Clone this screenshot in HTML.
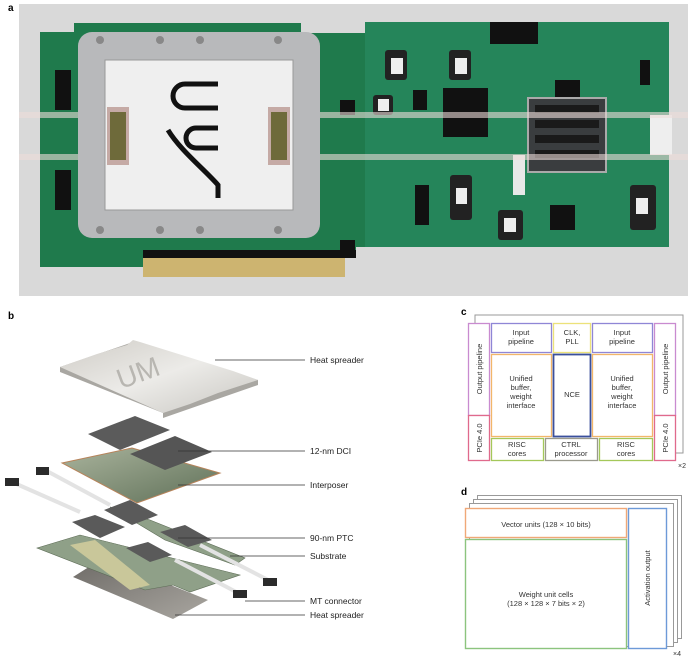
<!DOCTYPE html>
<html><head><meta charset="utf-8"><style>
html,body{margin:0;padding:0;background:#fff;}
body{width:694px;height:659px;position:relative;overflow:hidden;font-family:"Liberation Sans",sans-serif;}
svg{position:absolute;left:0;top:0;}
text{font-family:"Liberation Sans",sans-serif;}
</style></head><body>
<svg width="694" height="659" viewBox="0 0 694 659">
<defs>
<linearGradient id="hs" x1="0" y1="0" x2="1" y2="1"><stop offset="0" stop-color="#cfccc6"/><stop offset="0.5" stop-color="#ecebe8"/><stop offset="1" stop-color="#c8c6c1"/></linearGradient>
<linearGradient id="hs2" x1="0" y1="0" x2="1" y2="1"><stop offset="0" stop-color="#6d6a66"/><stop offset="1" stop-color="#a9a6a0"/></linearGradient>
<linearGradient id="ip" x1="0" y1="0" x2="1" y2="1"><stop offset="0" stop-color="#a9b39c"/><stop offset="1" stop-color="#5f7058"/></linearGradient>
</defs>
<!-- panel a -->
<text x="8" y="11" font-size="10" font-weight="bold">a</text>
<rect x="19" y="4" width="669" height="292" fill="#d9d9d9"/>
<!-- board -->
<path d="M40 32 H74 V23 H301 V33 H365 V22 H669 V247 H356 V258 H143 V267 H40 Z" fill="#1f7a4c"/>
<rect x="365" y="22" width="304" height="225" fill="#25855a"/>
<rect x="143" y="250" width="213" height="8" fill="#111"/>
<rect x="143" y="258" width="202" height="19" fill="#cdb470"/>
<g fill="#111">
<rect x="443" y="88" width="45" height="49"/>
<rect x="490" y="22" width="48" height="22"/>
<rect x="55" y="70" width="16" height="40"/><rect x="55" y="170" width="16" height="40"/>
<rect x="413" y="90" width="14" height="20"/><rect x="415" y="185" width="14" height="40"/>
<rect x="555" y="80" width="25" height="20"/><rect x="640" y="60" width="10" height="25"/>
<rect x="550" y="205" width="25" height="25"/><rect x="340" y="100" width="15" height="15"/>
<rect x="340" y="240" width="15" height="10"/>
</g>
<g fill="#222"><rect x="385" y="50" width="22" height="30" rx="3"/><rect x="449" y="50" width="22" height="30" rx="3"/><rect x="373" y="95" width="20" height="20" rx="3"/><rect x="450" y="175" width="22" height="45" rx="3"/><rect x="498" y="210" width="25" height="30" rx="3"/><rect x="630" y="185" width="26" height="45" rx="3"/></g>
<g fill="#eee"><rect x="391" y="58" width="12" height="16"/><rect x="455" y="58" width="12" height="16"/><rect x="378" y="99" width="11" height="12"/><rect x="456" y="188" width="11" height="16"/><rect x="504" y="218" width="12" height="14"/><rect x="636" y="198" width="12" height="16"/></g>
<rect x="513" y="155" width="12" height="40" fill="#e8e8e8"/>
<!-- heatsink -->
<rect x="528" y="98" width="78" height="74" fill="#3a3d3f" stroke="#aaa" stroke-width="2"/>
<g fill="#1a1a1a"><rect x="535" y="105" width="64" height="8"/><rect x="535" y="120" width="64" height="8"/><rect x="535" y="135" width="64" height="8"/><rect x="535" y="150" width="64" height="8"/></g>
<rect x="650" y="115" width="22" height="40" fill="#eee"/>
<!-- fibers -->
<rect x="19" y="112" width="669" height="6" fill="#ecdcd8" opacity="0.6"/>
<rect x="19" y="154" width="669" height="6" fill="#ecdcd8" opacity="0.6"/>
<!-- heat spreader -->
<rect x="78" y="32" width="242" height="206" rx="14" fill="#b8b9bb"/>
<rect x="105" y="60" width="188" height="150" fill="#efefef" stroke="#999"/>
<rect x="107" y="107" width="22" height="58" fill="#c5aaa5"/><rect x="110" y="112" width="16" height="48" fill="#6e6a3a"/>
<rect x="268" y="107" width="22" height="58" fill="#c5aaa5"/><rect x="271" y="112" width="16" height="48" fill="#6e6a3a"/>
<g stroke="#111" stroke-width="5" fill="none">
<path d="M218 108 H185 A12 12 0 0 1 185 84 H218"/>
<path d="M218 128 H196 A10 10 0 0 0 196 148 H218"/>
<path d="M168 130 C180 150 205 170 218 185 H218 V198"/>
</g>
<g fill="#888"><circle cx="100" cy="40" r="4"/><circle cx="160" cy="40" r="4"/><circle cx="200" cy="40" r="4"/><circle cx="278" cy="40" r="4"/><circle cx="100" cy="230" r="4"/><circle cx="160" cy="230" r="4"/><circle cx="200" cy="230" r="4"/><circle cx="278" cy="230" r="4"/></g>

<!-- panel b -->
<text x="8" y="319" font-size="10" font-weight="bold">b</text>
<polygon points="73,577 103,558 208,600 173,619" fill="url(#hs2)"/>
<polygon points="37,548 80,535 240,575 190,592 173,585 145,590" fill="#8fa088" stroke="#5c6b55" stroke-width="0.6"/>
<polygon points="70,545 95,540 150,585 130,590" fill="#c9c79a"/>
<polygon points="110,507 165,540 235,565 245,558 150,520" fill="#8fa088" stroke="#5c6b55" stroke-width="0.6"/>
<polygon points="72,522 95,515 125,527 100,538" fill="#5a5a5a"/>
<polygon points="104,510 130,500 158,515 132,525" fill="#5a5a5a"/>
<polygon points="126,548 148,542 172,555 150,562" fill="#5a5a5a"/>
<polygon points="160,532 185,525 212,540 188,547" fill="#5a5a5a"/>
<g stroke="#e3e3e3" stroke-width="4"><line x1="12" y1="482" x2="80" y2="512"/><line x1="45" y1="470" x2="110" y2="505"/><line x1="175" y1="560" x2="242" y2="595"/><line x1="200" y1="545" x2="272" y2="582"/></g>
<g fill="#2b2b2b"><rect x="5" y="478" width="14" height="8"/><rect x="36" y="467" width="13" height="8"/><rect x="233" y="590" width="14" height="8"/><rect x="263" y="578" width="14" height="8"/></g>
<polygon points="62,463 132,448 220,473 137,503" fill="url(#ip)" stroke="#b7835a" stroke-width="1"/>
<polygon points="88,434 135,416 170,430 120,450" fill="#5b5b5b"/>
<polygon points="130,454 175,436 212,452 165,470" fill="#555"/>
<polygon points="60,372 60,367 133,342 258,380 258,385 163,418 163,413" fill="#a9a7a2"/>
<polygon points="60,367 97,354 127,345 133,340 140,342 233,371 258,380 218,393 190,404 163,413" fill="url(#hs)"/>
<text x="140" y="382" font-size="28" fill="#b8b6b1" text-anchor="middle" transform="rotate(-20 140 378)">UM</text>
<g stroke="#333" stroke-width="0.7">
<line x1="215" y1="360" x2="305" y2="360"/><line x1="178" y1="451" x2="305" y2="451"/><line x1="178" y1="485" x2="305" y2="485"/><line x1="178" y1="538" x2="305" y2="538"/><line x1="230" y1="556" x2="305" y2="556"/><line x1="245" y1="601" x2="305" y2="601"/><line x1="175" y1="615" x2="305" y2="615"/>
</g>
<g font-size="8.5" fill="#222">
<text x="310" y="363">Heat spreader</text><text x="310" y="454">12-nm DCI</text><text x="310" y="488">Interposer</text><text x="310" y="541">90-nm PTC</text><text x="310" y="559">Substrate</text><text x="310" y="604">MT connector</text><text x="310" y="618">Heat spreader</text>
</g>

<!-- panel c -->
<text x="461" y="315" font-size="10" font-weight="bold">c</text>
<polyline points="475,323 475,315 683,315 683,453 675,453" fill="none" stroke="#999" stroke-width="1"/>
<g stroke-width="1.3" fill="#fff">
<rect x="468.5" y="323.5" width="21" height="92" stroke="#c98bd0"/>
<rect x="468.5" y="415.5" width="21" height="45" stroke="#e06a8c"/>
<rect x="654.5" y="323.5" width="21" height="92" stroke="#c98bd0"/>
<rect x="654.5" y="415.5" width="21" height="45" stroke="#e06a8c"/>
<rect x="491.5" y="323.5" width="60" height="29" stroke="#8f86d6"/>
<rect x="553.5" y="323.5" width="37" height="29" stroke="#ece27a"/>
<rect x="592.5" y="323.5" width="60" height="29" stroke="#8f86d6"/>
<rect x="491.5" y="354.5" width="60" height="82" stroke="#f2b66a"/>
<rect x="553.5" y="354.5" width="37" height="82" stroke="#3a4f9c" stroke-width="1.8"/>
<rect x="592.5" y="354.5" width="60" height="82" stroke="#f2b66a"/>
<rect x="491.5" y="438.5" width="52" height="22" stroke="#a4c85a"/>
<rect x="545.5" y="438.5" width="52" height="22" stroke="#9a9a8c"/>
<rect x="599.5" y="438.5" width="53" height="22" stroke="#a4c85a"/>
</g>
<g font-size="7.5" fill="#333" text-anchor="middle">
<text x="521" y="335">Input</text><text x="521" y="344">pipeline</text>
<text x="572" y="335">CLK,</text><text x="572" y="344">PLL</text>
<text x="622" y="335">Input</text><text x="622" y="344">pipeline</text>
<text x="521" y="381">Unified</text><text x="521" y="390">buffer,</text><text x="521" y="399">weight</text><text x="521" y="408">interface</text>
<text x="572" y="397">NCE</text>
<text x="622" y="381">Unified</text><text x="622" y="390">buffer,</text><text x="622" y="399">weight</text><text x="622" y="408">interface</text>
<text x="517" y="447">RISC</text><text x="517" y="456">cores</text>
<text x="571" y="447">CTRL</text><text x="571" y="456">processor</text>
<text x="626" y="447">RISC</text><text x="626" y="456">cores</text>
<text transform="translate(482 369) rotate(-90)">Output pipeline</text>
<text transform="translate(482 438) rotate(-90)">PCIe 4.0</text>
<text transform="translate(668 369) rotate(-90)">Output pipeline</text>
<text transform="translate(668 438) rotate(-90)">PCIe 4.0</text>
</g>
<text x="678" y="468" font-size="7" fill="#333">×2</text>

<!-- panel d -->
<text x="461" y="495" font-size="10" font-weight="bold">d</text>
<g fill="#fff" stroke="#999" stroke-width="1">
<rect x="477.5" y="495.5" width="204" height="143"/>
<rect x="473.5" y="499.5" width="204" height="143"/>
<rect x="469.5" y="503.5" width="204" height="143"/>
</g>
<g fill="#fff" stroke-width="1.4">
<rect x="465.5" y="508.5" width="161" height="29" stroke="#f0a878"/>
<rect x="465.5" y="539.5" width="161" height="109" stroke="#8cc47e"/>
<rect x="628.5" y="508.5" width="38" height="140" stroke="#6d9ad8"/>
</g>
<g font-size="7.5" fill="#333" text-anchor="middle">
<text x="546" y="527">Vector units (128 × 10 bits)</text>
<text x="546" y="597">Weight unit cells</text>
<text x="546" y="606">(128 × 128 × 7 bits × 2)</text>
<text transform="translate(650 578) rotate(-90)">Activation output</text>
</g>
<text x="673" y="656" font-size="7" fill="#333">×4</text>
</svg>
</body></html>
